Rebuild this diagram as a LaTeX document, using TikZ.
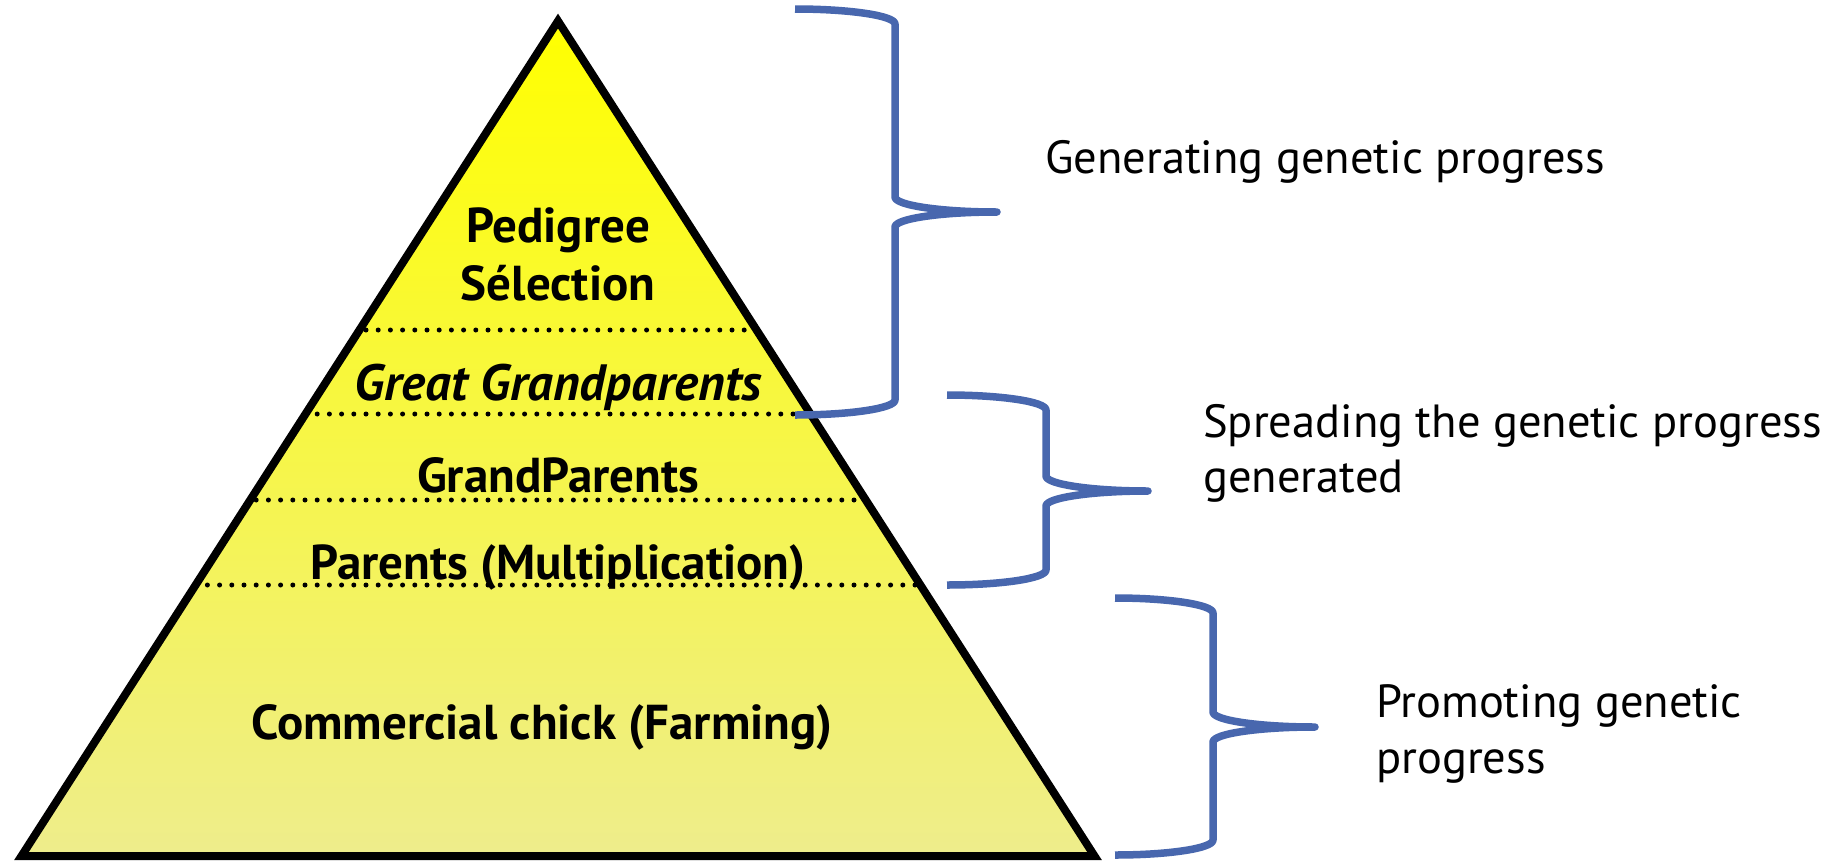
\documentclass[tikz,border=0pt]{standalone}
\usepackage{fontspec}
\setmainfont{PT Sans}
\begin{document}
\begin{tikzpicture}[x=1pt,y=-1pt,
  layer/.style={font=\bfseries\fontsize{49}{58}\selectfont, anchor=base, inner sep=0pt},
  aim/.style={font=\fontsize{46.5}{55}\selectfont, anchor=base west, inner sep=0pt},
  bracestyle/.style={draw={rgb,255:red,72;green,103;blue,174}, line width=7.5, line cap=butt, line join=round},
  levelline/.style={line width=5, dash pattern=on 0pt off 12.2pt, line cap=round},
  outline/.style={line width=8, line join=miter}]
\useasboundingbox (0,0) rectangle (1829,860);

% pyramid corners
\coordinate (apex) at (558,21);
\coordinate (bl) at (21.5,856);
\coordinate (br) at (1094.5,856);

% yellow body, fading towards the base
\shade[top color=yellow, bottom color={rgb,255:red,238;green,237;blue,140}]
  (apex) -- (br) -- (bl) -- cycle;

% dotted separators between the generations
\begin{scope}
  \clip (apex) -- (br) -- (bl) -- cycle;
  \foreach \lv in {330,414,500,585}
    \draw[levelline] (0,\lv) -- (1200,\lv);
\end{scope}

\draw[outline] (apex) -- (br) -- (bl) -- cycle;

% generation labels
\node[layer] (ped) at (558,242) {Pedigree};
\node[layer] (sel) at (558,300) {Sélection};
\node[layer, font=\bfseries\itshape\fontsize{51}{60}\selectfont] (ggp) at (558,400) {Great Grandparents};
\node[layer] (gp)  at (558,492) {GrandParents};
\node[layer] (par) at (558,579) {Parents (Multiplication)};
\node[layer] (com) at (542,739) {Commercial chick (Farming)};

% right braces: left x, bar x, tip x, top y, tip y, bottom y, corner radius
\newcommand\drawbrace[7]{%
  \draw[bracestyle] (#1,#4)
    .. controls ({#1+0.552*(#2-#1)},#4) and (#2,{#4+0.448*#7}) .. (#2,{#4+#7})
    -- (#2,{#5-#7})
    .. controls (#2,{#5-0.448*#7}) and ({#3-0.552*(#3-#2)},#5) .. (#3,#5)
    .. controls ({#3-0.552*(#3-#2)},#5) and (#2,{#5+0.448*#7}) .. (#2,{#5+#7})
    -- (#2,{#6-#7})
    .. controls (#2,{#6-0.448*#7}) and ({#1+0.552*(#2-#1)},#6) .. (#1,#6);}
\drawbrace{795}{895}{997}{9}{212}{415}{15}
\drawbrace{947}{1046}{1148}{395}{491}{585}{15}
\drawbrace{1115}{1213}{1315}{598}{727}{855}{15}

% role of each tier
\node[aim] (gen)  at (1045,173) {Generating genetic progress};
\node[aim] (spr1) at (1203,437) {Spreading the genetic progress};
\node[aim] (spr2) at (1203,492) {generated};
\node[aim] (pro1) at (1376,717) {Promoting genetic};
\node[aim] (pro2) at (1376,773) {progress};
\end{tikzpicture}
\end{document}
